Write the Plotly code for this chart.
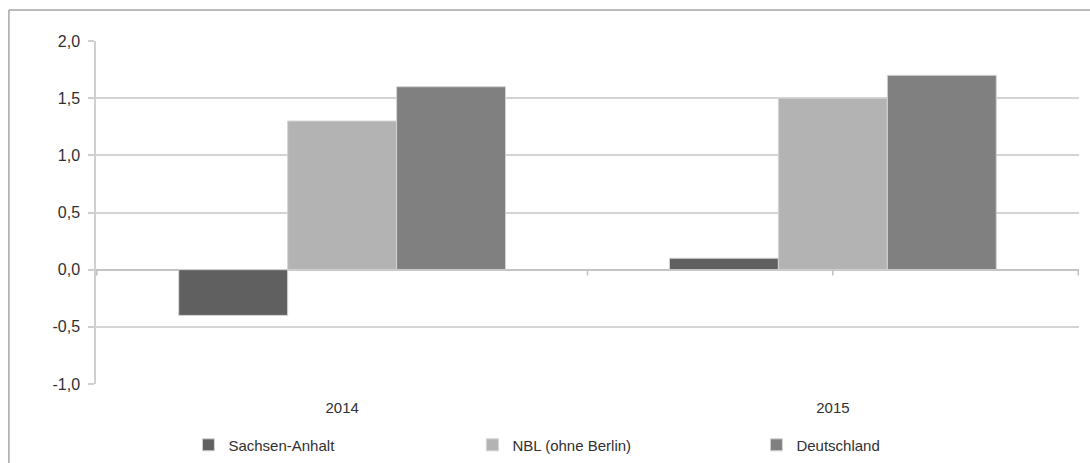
import plotly.graph_objects as go

# Kategorien und Werte
jahre = ["2014", "2015"]
sachsen_anhalt = [-0.4, 0.1]
nbl_ohne_berlin = [1.3, 1.5]
deutschland = [1.6, 1.7]

y_ticks = [-1.0, -0.5, 0.0, 0.5, 1.0, 1.5, 2.0]
y_ticktext = ["-1,0", "-0,5", "0,0", "0,5", "1,0", "1,5", "2,0"]

serien = [
    ("Sachsen-Anhalt", sachsen_anhalt, "#606060"),
    ("NBL (ohne Berlin)", nbl_ohne_berlin, "#b3b3b3"),
    ("Deutschland", deutschland, "#808080"),
]

FONT = "Liberation Sans, Arial, sans-serif"
TEXT = "#303030"

fig = go.Figure()
for name, werte, farbe in serien:
    fig.add_trace(go.Bar(
        x=jahre, y=werte, name=name,
        marker=dict(color=farbe, line=dict(color="#d4d4d4", width=1)),
    ))

# Rahmen um das Diagramm (links und oben)
rahmen = dict(type="line", xref="paper", yref="paper",
              line=dict(color="#a6a6a6", width=1.5))
fig.add_shape(x0=-0.0886, x1=-0.0886, y0=1.0904, y1=-0.25, **rahmen)
fig.add_shape(x0=-0.0886, x1=1.02, y0=1.0904, y1=1.0904, **rahmen)

# Teilstriche der Rubrikenachse auf der Nulllinie
for pos in [-0.5, 0.5, 1.0, 1.5]:
    fig.add_shape(type="line", xref="x", yref="y", x0=pos, x1=pos,
                  y0=0, y1=-0.05, line=dict(color="#c0c0c0", width=1.5))

fig.update_layout(
    width=1090, height=463,
    margin=dict(l=96, r=11, t=41, b=79, autoexpand=False),
    paper_bgcolor="white", plot_bgcolor="white",
    barmode="group", bargap=0.334, bargroupgap=0,
    font=dict(family=FONT, size=15, color=TEXT),
    showlegend=True,
    legend=dict(
        orientation="h", x=0.094, xanchor="left", y=-0.13, yanchor="top",
        entrywidth=239, entrywidthmode="pixels", itemwidth=30,
        font=dict(family=FONT, size=15, color=TEXT),
        traceorder="normal",
    ),
    xaxis=dict(
        type="category", showgrid=False, showline=False, ticks="",
        tickfont=dict(family=FONT, size=15, color=TEXT),
        ticklabelstandoff=13,
    ),
    yaxis=dict(
        range=[-1.0, 2.0], tickvals=y_ticks, ticktext=y_ticktext,
        showgrid=True, gridcolor="#d4d4d4", gridwidth=1.5,
        zeroline=True, zerolinecolor="#c4c4c4", zerolinewidth=1.5,
        showline=True, linecolor="#cfcfcf", linewidth=1.5,
        ticks="outside", ticklen=6, tickcolor="#cfcfcf", tickwidth=1.5,
        tickfont=dict(family=FONT, size=16, color=TEXT),
        ticklabelstandoff=5,
    ),
)

fig.write_html("out.html")
